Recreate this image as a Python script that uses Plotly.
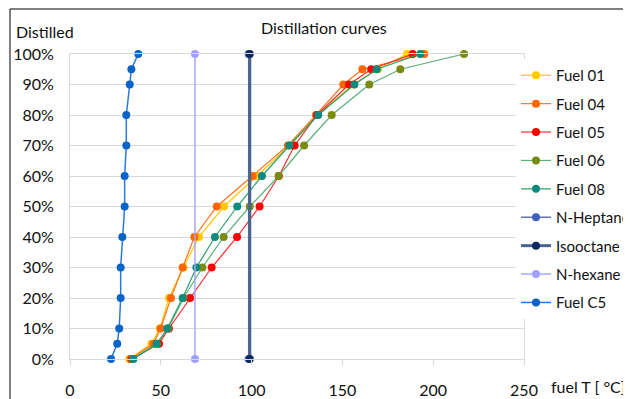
import plotly.graph_objects as go

# distilled fraction levels (%)
levels = [0, 5, 10, 20, 30, 40, 50, 60, 70, 80, 90, 95, 100]

# fuel temperatures (°C) at each distilled level
fuel01 = [32.7, 44.8, 49.5, 54.5, 62.5, 71.0, 84.8, 102.8, 121.0, 136.2, 156.0, 169.6, 185.6]
fuel04 = [33.4, 45.9, 49.9, 55.6, 62.0, 68.5, 80.8, 100.6, 120.0, 135.5, 150.5, 161.0, 195.1]
fuel05 = [34.0, 49.0, 54.5, 66.1, 78.0, 92.0, 104.4, 115.0, 123.7, 136.0, 153.6, 165.9, 188.7]
fuel06 = [34.5, 47.9, 54.1, 62.5, 72.9, 84.6, 99.0, 114.9, 128.9, 144.1, 164.8, 181.9, 217.0]
fuel08 = [34.9, 47.7, 53.6, 62.0, 69.6, 79.8, 92.1, 105.7, 120.8, 136.7, 156.6, 168.9, 192.9]

pure_levels = [0, 100]
nheptane = [98.4, 98.4]
isooctane = [99.0, 99.0]
nhexane = [68.8, 68.8]

c5_levels = [100, 95, 90, 80, 70, 60, 50, 40, 30, 20, 10, 5, 0]
fuelc5 = [37.6, 33.8, 32.9, 31.0, 31.0, 30.1, 30.1, 28.8, 27.9, 27.9, 27.1, 26.0, 22.6]

x_ticks = [0, 50, 100, 150, 200, 250]
y_ticks = [0, 10, 20, 30, 40, 50, 60, 70, 80, 90, 100]
y_ticktext = ["0%", "10%", "20%", "30%", "40%", "50%", "60%", "70%", "80%", "90%", "100%"]

FONT = "Lato, 'Noto Sans', sans-serif"
TXT = "#111111"

series = [
    ("Fuel 01", fuel01, levels, "#FFC700", "#FFC700", 1.2),
    ("Fuel 04", fuel04, levels, "#FF7420", "#FF6600", 1.2),
    ("Fuel 05", fuel05, levels, "#FF2A2A", "#FF0000", 1.2),
    ("Fuel 06", fuel06, levels, "#5BB07A", "#7B8B12", 1.2),
    ("Fuel 08", fuel08, levels, "#2E9E6A", "#0E8A7E", 1.2),
    ("N-Heptane", nheptane, pure_levels, "#6A6AA8", "#3F5FBF", 1.5),
    ("Isooctane", isooctane, pure_levels, "#4A6490", "#0B2A5B", 3),
    ("N-hexane", nhexane, pure_levels, "#A8A8F8", "#A0A0FF", 1.5),
    ("Fuel C5", fuelc5, c5_levels, "#2A7AD8", "#0A64C8", 1.5),
]

fig = go.Figure()
for i, (name, xs, ys, lc, mc, lw) in enumerate(series):
    fig.add_trace(go.Scatter(
        x=xs, y=ys, name=name, mode="lines+markers",
        line=dict(color=lc, width=lw),
        marker=dict(color=mc, size=8),
        cliponaxis=False, legendgroup=f"g{i}",
    ))

# page offset (body margin) and plot area in screen pixels: x 70..524, y 54..359
OFF = 8
L, R, T, B = 70 - OFF, 524 - OFF, 54 - OFF, 359 - OFF
W, H = 631, 399
pw, ph = R - L, B - T

def px(x):  # screen x -> paper
    return (x - OFF - L) / pw

def py(y):  # screen y -> paper
    return (B - (y - OFF)) / ph

fig.update_layout(
    width=W, height=H,
    margin=dict(l=L, r=W - R, t=T, b=H - B, pad=0, autoexpand=False),
    paper_bgcolor="white", plot_bgcolor="white",
    font=dict(family=FONT, size=16, color=TXT),
    showlegend=True,
    legend=dict(
        x=px(516), y=py(59), xanchor="left", yanchor="top",
        bgcolor="white", borderwidth=0,
        font=dict(family=FONT, size=15, color=TXT),
        traceorder="grouped", tracegroupgap=5.9, itemwidth=30,
    ),
    xaxis=dict(
        range=[0, 250], tickvals=x_ticks, showgrid=False, zeroline=False,
        showline=True, linecolor="#D9D9D9", linewidth=1, mirror=True,
        ticks="outside", ticklen=5, tickcolor="#D9D9D9",
        ticklabelstandoff=12, automargin=False,
        tickfont=dict(family=FONT, size=16, color=TXT),
    ),
    yaxis=dict(
        range=[0, 100], tickvals=y_ticks, ticktext=y_ticktext,
        showgrid=True, gridcolor="#D9D9D9", gridwidth=1, zeroline=False,
        showline=True, linecolor="#D9D9D9", linewidth=1, mirror=True,
        ticks="", ticklabelstandoff=12, automargin=False,
        tickfont=dict(family=FONT, size=16, color=TXT),
    ),
    annotations=[
        dict(text="Distillation curves", x=px(324), y=py(28), xref="paper", yref="paper",
             xanchor="center", yanchor="middle", showarrow=False,
             font=dict(family=FONT, size=16, color=TXT)),
        dict(text="Distilled", x=px(14), y=py(31), xref="paper", yref="paper",
             xanchor="left", yanchor="middle", showarrow=False,
             font=dict(family=FONT, size=16, color=TXT)),
        dict(text="fuel T [ °C]", x=px(549), y=py(386), xref="paper", yref="paper",
             xanchor="left", yanchor="middle", showarrow=False,
             font=dict(family=FONT, size=16, color=TXT)),
    ],
    shapes=[
        dict(type="line", xref="paper", yref="paper", x0=px(10), x1=px(700),
             y0=py(9), y1=py(9), line=dict(color="black", width=1)),
        dict(type="line", xref="paper", yref="paper", x0=px(10), x1=px(10),
             y0=py(9), y1=py(420), line=dict(color="black", width=1)),
    ],
)

fig.write_html("out.html")
